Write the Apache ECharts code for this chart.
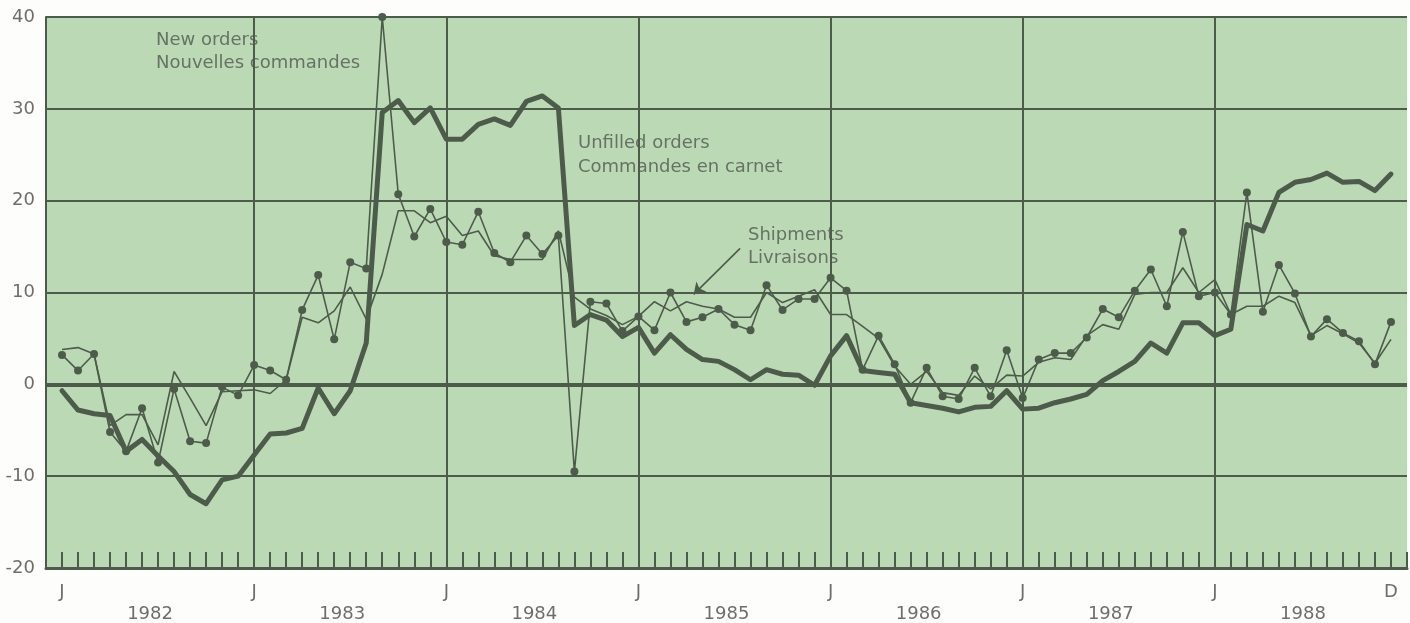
<!DOCTYPE html>
<html>
<head>
<meta charset="utf-8">
<script src="https://cdn.jsdelivr.net/npm/echarts@6/dist/echarts.min.js"></script>
<style>
html,body{margin:0;padding:0;background:#fdfdfb;}
#chart{width:1410px;height:623px;}
</style>
</head>
<body>
<div id="chart"></div>
<script>
// Months Jan 1982 .. Dec 1988 (84 months), indexed 0..83
const years = ['1982','1983','1984','1985','1986','1987','1988'];
const tickPositions = [0, 12, 24, 36, 48, 60, 72, 83];
const tickLabels = ['J','J','J','J','J','J','J','D'];
const yearCenters = [5.5, 17.5, 29.5, 41.5, 53.5, 65.5, 77.5];
const yearStarts = [12, 24, 36, 48, 60, 72];

const newOrders = [
  3.2, 1.5, 3.3, -5.2, -7.3, -2.6, -8.5, -0.5, -6.2, -6.4, -0.3, -1.2,
  2.1, 1.5, 0.5, 8.1, 11.9, 4.9, 13.3, 12.6, 40.0, 20.7, 16.1, 19.1,
  15.5, 15.2, 18.8, 14.3, 13.3, 16.2, 14.2, 16.2, -9.5, 9.0, 8.8, 5.8,
  7.4, 5.9, 10.0, 6.8, 7.3, 8.2, 6.5, 5.9, 10.8, 8.1, 9.3, 9.3,
  11.6, 10.2, 1.6, 5.3, 2.2, -2.0, 1.8, -1.3, -1.6, 1.8, -1.3, 3.7,
  -1.5, 2.7, 3.4, 3.4, 5.1, 8.2, 7.3, 10.2, 12.5, 8.5, 16.6, 9.6,
  10.0, 7.6, 20.9, 7.9, 13.0, 9.9, 5.2, 7.1, 5.6, 4.7, 2.2, 6.8
];
const shipments = [
  3.8, 4.0, 3.3, -4.5, -3.3, -3.3, -6.6, 1.4, -1.5, -4.5, -0.8, -0.7,
  -0.6, -1.0, 0.5, 7.3, 6.7, 8.0, 10.6, 7.1, 12.0, 18.9, 18.9, 17.6,
  18.3, 16.2, 16.7, 14.0, 13.6, 13.6, 13.6, 16.7, 9.5, 8.2, 7.5, 6.5,
  7.4, 9.0, 8.0, 9.0, 8.5, 8.2, 7.3, 7.3, 10.0, 8.9, 9.6, 10.3,
  7.6, 7.6, 6.3, 5.0, 2.0, 0.0, 1.4, -0.9, -1.2, 0.9, -0.5, 1.0,
  0.9, 2.4, 2.9, 2.7, 5.3, 6.5, 6.0, 9.8, 10.0, 10.0, 12.7, 10.0,
  11.4, 7.6, 8.5, 8.5, 9.6, 8.9, 5.3, 6.4, 5.5, 4.5, 2.3, 4.9
];
const unfilledOrders = [
  -0.7, -2.8, -3.2, -3.4, -7.3, -6.0, -7.8, -9.5, -12.0, -13.0, -10.4, -10.0,
  -7.7, -5.4, -5.3, -4.8, -0.4, -3.2, -0.7, 4.5, 29.6, 30.9, 28.5, 30.1,
  26.7, 26.7, 28.3, 28.9, 28.2, 30.8, 31.4, 30.1, 6.4, 7.6, 7.0, 5.2,
  6.2, 3.4, 5.4, 3.8, 2.7, 2.5, 1.6, 0.5, 1.6, 1.1, 1.0, -0.1,
  3.1, 5.3, 1.5, 1.3, 1.1, -2.0, -2.3, -2.6, -3.0, -2.5, -2.4, -0.7,
  -2.7, -2.6, -2.0, -1.6, -1.1, 0.4, 1.4, 2.5, 4.5, 3.4, 6.7, 6.7,
  5.3, 6.0, 17.4, 16.7, 20.9, 22.0, 22.3, 23.0, 22.0, 22.1, 21.1, 22.9
];
const yTicks = [-20, -10, 0, 10, 20, 30, 40];

const INK = '#4d5c4a';
const TEXT = '#667263';
const AXTEXT = '#6e6e6a';
const FONT = '"DejaVu Sans", "Liberation Sans", sans-serif';

const pairs = arr => arr.map((v, i) => [i, v]);
const near = (a, b) => Math.abs(a - b) < 1e-6;

const chart = echarts.init(document.getElementById('chart'), null, {renderer: 'canvas'});
chart.setOption({
  animation: false,
  backgroundColor: '#fdfdfb',
  grid: {left: 46, top: 17, width: 1370, height: 551, show: true,
         backgroundColor: '#bcd9b6', borderWidth: 0},
  xAxis: [{
    type: 'value', min: -1, max: 84, interval: 1,
    axisLine: {show: true, onZero: false, lineStyle: {color: INK, width: 3}},
    axisTick: {show: true, inside: true, length: 16, lineStyle: {color: INK, width: 2}},
    splitLine: {show: false},
    axisLabel: {
      margin: 15, color: AXTEXT, fontSize: 18, fontFamily: FONT,
      formatter: v => { const k = tickPositions.findIndex(p => near(p, v)); return k >= 0 ? tickLabels[k] : ''; }
    }
  }, {
    type: 'value', min: -1, max: 84, interval: 0.5, position: 'bottom',
    axisLine: {show: false, onZero: false}, axisTick: {show: false}, splitLine: {show: false},
    axisLabel: {
      margin: 37, color: AXTEXT, fontSize: 18, fontFamily: FONT,
      formatter: v => { const k = yearCenters.findIndex(p => near(p, v)); return k >= 0 ? years[k] : ''; }
    }
  }],
  yAxis: {
    type: 'value', min: yTicks[0], max: yTicks[yTicks.length - 1], interval: 10,
    axisLine: {show: true, onZero: false, lineStyle: {color: INK, width: 2}},
    axisTick: {show: false},
    axisLabel: {margin: 11, color: AXTEXT, fontSize: 18, fontFamily: FONT},
    splitLine: {show: true, lineStyle: {color: INK, width: 2}}
  },
  series: [{
    type: 'line', data: [], z: 1, silent: true,
    markLine: {
      silent: true, symbol: 'none', label: {show: false}, animation: false,
      data: yearStarts.map(x => ({xAxis: x, lineStyle: {color: INK, width: 2, type: 'solid'}}))
        .concat([{yAxis: 0, lineStyle: {color: INK, width: 4, type: 'solid'}}])
    }
  }, {
    name: 'Shipments', type: 'line', data: pairs(shipments), z: 3,
    showSymbol: false, symbol: 'none',
    lineStyle: {color: INK, width: 1.6},
    markLine: {
      silent: true, symbol: ['none', 'arrow'], symbolSize: 11,
      label: {show: false},
      lineStyle: {color: INK, width: 1.6, type: 'solid'},
      data: [[{coord: [42.35, 14.8]}, {coord: [39.45, 9.8]}]]
    }
  }, {
    name: 'New orders', type: 'line', data: pairs(newOrders), z: 4,
    symbol: 'circle', symbolSize: 8, showSymbol: true,
    itemStyle: {color: INK},
    lineStyle: {color: INK, width: 1.6}
  }, {
    name: 'Unfilled orders', type: 'line', data: pairs(unfilledOrders), z: 5,
    symbol: 'none', showSymbol: false,
    lineStyle: {color: INK, width: 5, join: 'round', cap: 'round'}
  }],
  graphic: [
    {type: 'text', left: 156, top: 29, style: {text: 'New orders\nNouvelles commandes', fill: TEXT, font: '18px ' + FONT, lineHeight: 23}},
    {type: 'text', left: 578, top: 131, style: {text: 'Unfilled orders\nCommandes en carnet', fill: TEXT, font: '18px ' + FONT, lineHeight: 24}},
    {type: 'text', left: 748, top: 224, style: {text: 'Shipments\nLivraisons', fill: TEXT, font: '18px ' + FONT, lineHeight: 23}}
  ]
});
</script>
</body>
</html>
